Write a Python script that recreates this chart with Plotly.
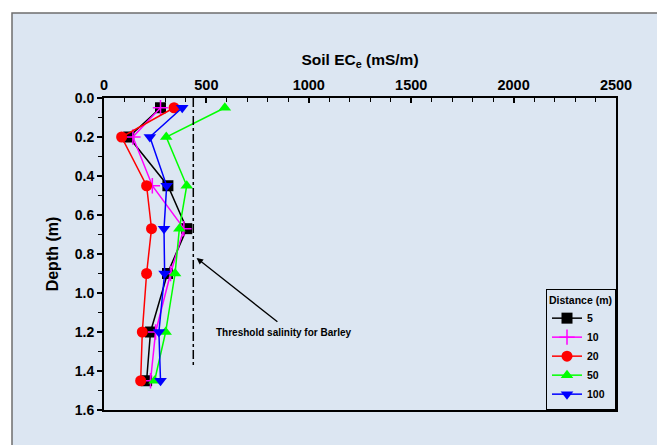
import plotly.graph_objects as go

depth = [0.05, 0.2, 0.45, 0.67, 0.9, 1.2, 1.45]
ece_5 = [276, 121, 312, 404, 310, 227, 208]
ece_10 = [276, 141, 236, 390, 325, 252, 227]
ece_20 = [342, 86, 208, 232, 208, 187, 179]
ece_50 = [590, 304, 404, 368, 347, 301, 247]
ece_100 = [382, 224, 306, 293, 296, 268, 276]

series_names = ["5", "10", "20", "50", "100"]
series_values = [ece_5, ece_10, ece_20, ece_50, ece_100]
colors = ["#000000", "#ff00ff", "#ff0000", "#00ff00", "#0000ff"]
symbols = ["square", "cross-thin-open", "circle", "triangle-up", "triangle-down"]

threshold_x = [436, 436]
threshold_y = [0.0, 1.38]

BG = "#dce6f2"
FONT = "Liberation Sans, Arial, sans-serif"

fig = go.Figure()
for name, vals, c, s in zip(series_names, series_values, colors, symbols):
    mk = dict(symbol=s, size=11, color=c)
    if s == "cross-thin-open":
        mk = dict(symbol=s, size=11, color=c, line=dict(color=c, width=1.5))
    fig.add_trace(go.Scatter(x=vals, y=depth, mode="lines+markers", name=name,
                             line=dict(color=c, width=1.5), marker=mk))

fig.add_trace(go.Scatter(x=threshold_x, y=threshold_y, mode="lines", showlegend=False,
                         line=dict(color="black", width=1.5, dash="dashdot")))

L, R, T, B = 104, 41, 98, 35
W, H = 657, 445
pw, ph = W - L - R, H - T - B

def px_x(p):
    return (p - L) / pw

def px_y(p):
    return 1 - (p - T) / ph

fig.add_shape(type="rect", xref="paper", yref="paper",
              x0=px_x(12), x1=px_x(700), y0=px_y(13), y1=px_y(480),
              fillcolor=BG, line=dict(color="#6e6e6e", width=1.5), layer="below")

fig.add_annotation(x=452, y=0.82, ax=854, ay=1.154, xref="x", yref="y",
                   axref="x", ayref="y", text="", showarrow=True,
                   arrowhead=2, arrowsize=1, arrowwidth=1.3, arrowcolor="black")
fig.add_annotation(x=874, y=1.2, xref="x", yref="y", text="<b>Threshold salinity for Barley</b>",
                   showarrow=False, font=dict(family=FONT, size=10, color="black"))

fig.update_layout(
    width=W, height=H,
    margin=dict(l=L, r=R, t=T, b=B),
    paper_bgcolor="white", plot_bgcolor="rgba(0,0,0,0)",
    font=dict(family=FONT, color="black"),
    showlegend=True,
    legend=dict(x=1, y=0, xanchor="right", yanchor="bottom",
                bgcolor=BG, bordercolor="black", borderwidth=1,
                font=dict(family=FONT, size=10.5, color="black", weight="bold"),
                title=dict(text="<b>Distance (m)</b>", font=dict(size=10.5)),
                tracegroupgap=0, itemwidth=30),
    xaxis=dict(side="top", range=[0, 2500], dtick=500, tick0=0,
               ticks="inside", ticklen=5, tickwidth=1.5, tickcolor="black",
               minor=dict(dtick=100, ticks="inside", ticklen=4, tickwidth=1, tickcolor="black"),
               showline=True, linecolor="black", linewidth=2, mirror=True,
               showgrid=False, zeroline=False,
               tickfont=dict(family=FONT, size=14.5, weight="bold"),
               title=dict(text="<b>Soil EC<sub>e</sub> (mS/m)</b>", font=dict(size=15.5), standoff=8)),
    yaxis=dict(range=[1.6, 0], dtick=0.2, tick0=0, tickformat=".1f",
               ticks="outside", ticklen=5, tickwidth=1.5, tickcolor="black",
               minor=dict(dtick=0.1, ticks="outside", ticklen=4, tickwidth=1, tickcolor="black"),
               showline=True, linecolor="black", linewidth=2, mirror=True,
               showgrid=False, zeroline=False,
               tickfont=dict(family=FONT, size=14, weight="bold"),
               title=dict(text="<b>Depth (m)</b>", font=dict(size=16), standoff=12)),
)

fig.write_html("out.html")
